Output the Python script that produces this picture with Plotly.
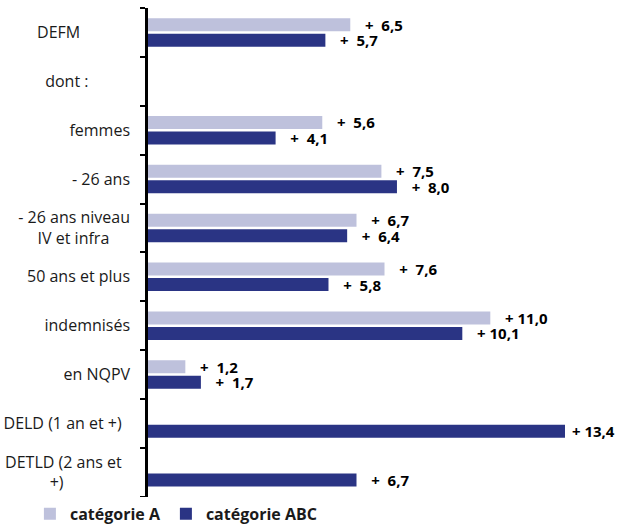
import plotly.graph_objects as go

categories = ["DEFM", "dont :", "femmes", "- 26 ans", "- 26 ans niveau<br>IV et infra",
              "50 ans et plus", "indemnisés", "en NQPV", "DELD (1 an et +)",
              "DETLD (2 ans et<br>+)"]
cat_a = [6.5, None, 5.6, 7.5, 6.7, 7.6, 11.0, 1.2, None, None]
cat_abc = [5.7, None, 4.1, 8.0, 6.4, 5.8, 10.1, 1.7, 13.4, 6.7]
series_names = ["catégorie A", "catégorie ABC"]
colors = ["#bec1dc", "#2a3484"]

# tick-label layout: trailing non-breaking spaces per label line (mimics the
# reference's wrapped, centred Excel labels)
NB = "\u00a0"
line_pad = {
    "DEFM": 12, "dont :": 10, "IV et infra": 5, "DELD (1 an et +)": 2,
    "DETLD (2 ans et": 2, "+)": 16,
}


def tick_label(cat):
    lines = cat.split("<br>")
    return "<br>".join(l + NB * line_pad.get(l, 0) for l in lines)


vmax = max(v for v in cat_a + cat_abc if v is not None)


def fmt(v):
    if v is None:
        return ""
    s = f"{v:.1f}".replace(".", ",")
    sep = NB if v >= 10 else NB * 2
    lead = NB if v == vmax else NB * 3
    return lead + "+" + sep + s


fig = go.Figure()
for name, vals, col in zip(series_names, [cat_a, cat_abc], colors):
    fig.add_trace(go.Bar(
        y=categories, x=vals, orientation="h", name=name,
        marker=dict(color=col, line=dict(width=0)),
        text=[fmt(v) for v in vals], textposition="outside",
        textfont=dict(family="Open Sans", size=15, color="#000000", weight="bold"),
        constraintext="none", cliponaxis=False, hoverinfo="skip",
    ))

fig.update_layout(
    width=623, height=528,
    margin=dict(l=148, r=58, t=8, b=31),
    paper_bgcolor="white", plot_bgcolor="white",
    barmode="group", bargap=0.367, bargroupgap=0.16,
    font=dict(family="Open Sans", size=16, color="#1a1a1a"),
    showlegend=True,
    legend=dict(orientation="h", x=0.048, xref="container", y=0.027, yref="container",
                yanchor="middle", xanchor="left", traceorder="normal",
                font=dict(family="Open Sans", size=16, color="#1a1a1a", weight="bold"),
                itemwidth=30, tracegroupgap=0),
    xaxis=dict(range=[0, 13.4], showgrid=False, zeroline=False, showticklabels=False,
               showline=False, ticks="", automargin=False),
    yaxis=dict(autorange="reversed", showgrid=False, zeroline=False,
               showline=True, linecolor="black", linewidth=2.5,
               ticks="outside", ticklen=5, tickwidth=2, tickcolor="black",
               tickson="boundaries", ticklabelstandoff=12, automargin=False,
               tickmode="array", tickvals=categories,
               ticktext=[tick_label(c) for c in categories],
               tickfont=dict(family="Open Sans", size=16, color="#1a1a1a")),
)

fig.write_html("out.html", config={"displayModeBar": False},
               post_script="document.body.style.margin='0';")
